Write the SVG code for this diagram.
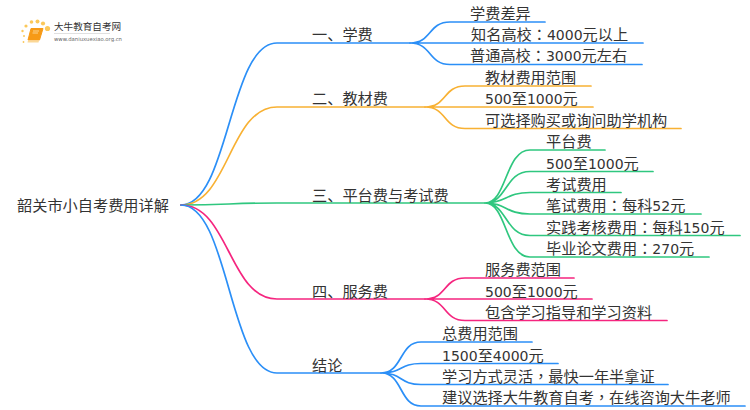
<svg xmlns="http://www.w3.org/2000/svg" width="750" height="410" viewBox="0 0 750 410">
<style>
text{font-family:"DejaVu Sans","Noto Sans CJK SC",sans-serif;font-size:15.2px;fill:#333}
.p{font-family:"Noto Sans CJK TC",sans-serif}
.n{font-size:14px}
.l{fill:none;stroke-width:1.7;stroke-linecap:round}
.a{stroke:#2b8ff7}.b{stroke:#f8b133}.c{stroke:#2fc77f}.d{stroke:#f5257f}
</style>
<rect width="750" height="410" fill="#fff"/>
<g id="connectors">
<path class="l a" d="M181,205C229,205 229,43 277,43H410"/><path class="l a" d="M410,43C432,43 428,22 450,22H545M410,43H643M410,43C432,43 428,64.500 450,64.500H642"/>
<path class="l b" d="M181,205C229,205 229,107 277,107H425"/><path class="l b" d="M425,107C447,107 443,86 465,86H591M425,107H593M425,107C447,107 443,128.500 465,128.500H681"/>
<path class="l c" d="M181,205C229,205 229,203 277,203H485"/><path class="l c" d="M485,203C507,203 505,150 530,150H605M485,203C507,203 505,171.500 530,171.500H653M485,203C507,203 505,192.500 530,192.500H621M485,203C507,203 505,214 530,214H701M485,203C507,203 505,235.500 530,235.500H740M485,203C507,203 505,257 530,257H709"/>
<path class="l d" d="M181,205C229,205 229,299 277,299H425"/><path class="l d" d="M425,299C447,299 443,278 465,278H574M425,299H592M425,299C447,299 443,320.500 465,320.500H667"/>
<path class="l a" d="M181,205C229,205 229,373 277,373H381"/><path class="l a" d="M381,373C403,373 399,342 421,342H532M381,373C403,373 399,363.500 421,363.500H558M381,373C403,373 399,384.500 421,384.500H668M381,373C403,373 399,406 421,406H745"/>
</g>
<g id="logo">
<g fill="#fbc85a"><circle cx="47.500" cy="28.500" r="2.600"/><circle cx="43" cy="23.500" r="2.100"/><circle cx="37.500" cy="21.500" r="2"/><circle cx="31.500" cy="22" r="1.800"/><circle cx="26" cy="26" r="1.600"/><circle cx="22.500" cy="31" r="1.200"/><circle cx="24" cy="36" r="1"/><circle cx="23.500" cy="42" r="0.900"/></g>
<path d="M31,28.500H43L39.500,40H28Z" fill="#f79a16" stroke="#f79a16" stroke-linejoin="round"/><path d="M28,40.500H39L38.500,42.500H27.500Z" fill="#fbd896"/>
<path d="M33,31H39M32.500,33H38" stroke="#fde3b0" stroke-width="0.800"/>
<text x="54" y="30" style="font-size:9.600px">大牛教育自考网</text>
<text x="54" y="41" style="font-size:5.300px;fill:#666">www.daniuxuexiao.org.cn</text>
<rect x="54" y="33" width="56" height="0.600" fill="#ccc"/>
</g>
<g id="root"><text x="17" y="211">韶关市小自考费用详解</text></g>
<g id="n1"><text x="312" y="40">一、学费</text></g>
<g id="n1a"><text x="470" y="19">学费差异</text></g>
<g id="n1b"><text x="471" y="40">知名高校<tspan class="p">：</tspan><tspan class="n">4000</tspan>元以上</text></g>
<g id="n1c"><text x="470" y="61">普通高校<tspan class="p">：</tspan><tspan class="n">3000</tspan>元左右</text></g>
<g id="n2"><text x="312" y="104">二、教材费</text></g>
<g id="n2a"><text x="485" y="83">教材费用范围</text></g>
<g id="n2b"><text x="485" y="104"><tspan class="n">500</tspan>至<tspan class="n">1000</tspan>元</text></g>
<g id="n2c"><text x="485" y="126">可选择购买或询问助学机构</text></g>
<g id="n3"><text x="312" y="201">三、平台费与考试费</text></g>
<g id="n3a"><text x="546" y="147">平台费</text></g>
<g id="n3b"><text x="546" y="169"><tspan class="n">500</tspan>至<tspan class="n">1000</tspan>元</text></g>
<g id="n3c"><text x="546" y="190">考试费用</text></g>
<g id="n3d"><text x="546" y="211">笔试费用<tspan class="p">：</tspan>每科<tspan class="n">52</tspan>元</text></g>
<g id="n3e"><text x="546" y="233">实践考核费用<tspan class="p">：</tspan>每科<tspan class="n">150</tspan>元</text></g>
<g id="n3f"><text x="546" y="254">毕业论文费用<tspan class="p">：</tspan><tspan class="n">270</tspan>元</text></g>
<g id="n4"><text x="312" y="297">四、服务费</text></g>
<g id="n4a"><text x="485" y="275">服务费范围</text></g>
<g id="n4b"><text x="485" y="297"><tspan class="n">500</tspan>至<tspan class="n">1000</tspan>元</text></g>
<g id="n4c"><text x="485" y="318">包含学习指导和学习资料</text></g>
<g id="n5"><text x="312" y="371">结论</text></g>
<g id="n5a"><text x="442" y="339">总费用范围</text></g>
<g id="n5b"><text x="442" y="361"><tspan class="n">1500</tspan>至<tspan class="n">4000</tspan>元</text></g>
<g id="n5c"><text x="442" y="382">学习方式灵活<tspan class="p">，</tspan>最快一年半拿证</text></g>
<g id="n5d"><text x="442" y="403">建议选择大牛教育自考<tspan class="p">，</tspan>在线咨询大牛老师</text></g>
</svg>
